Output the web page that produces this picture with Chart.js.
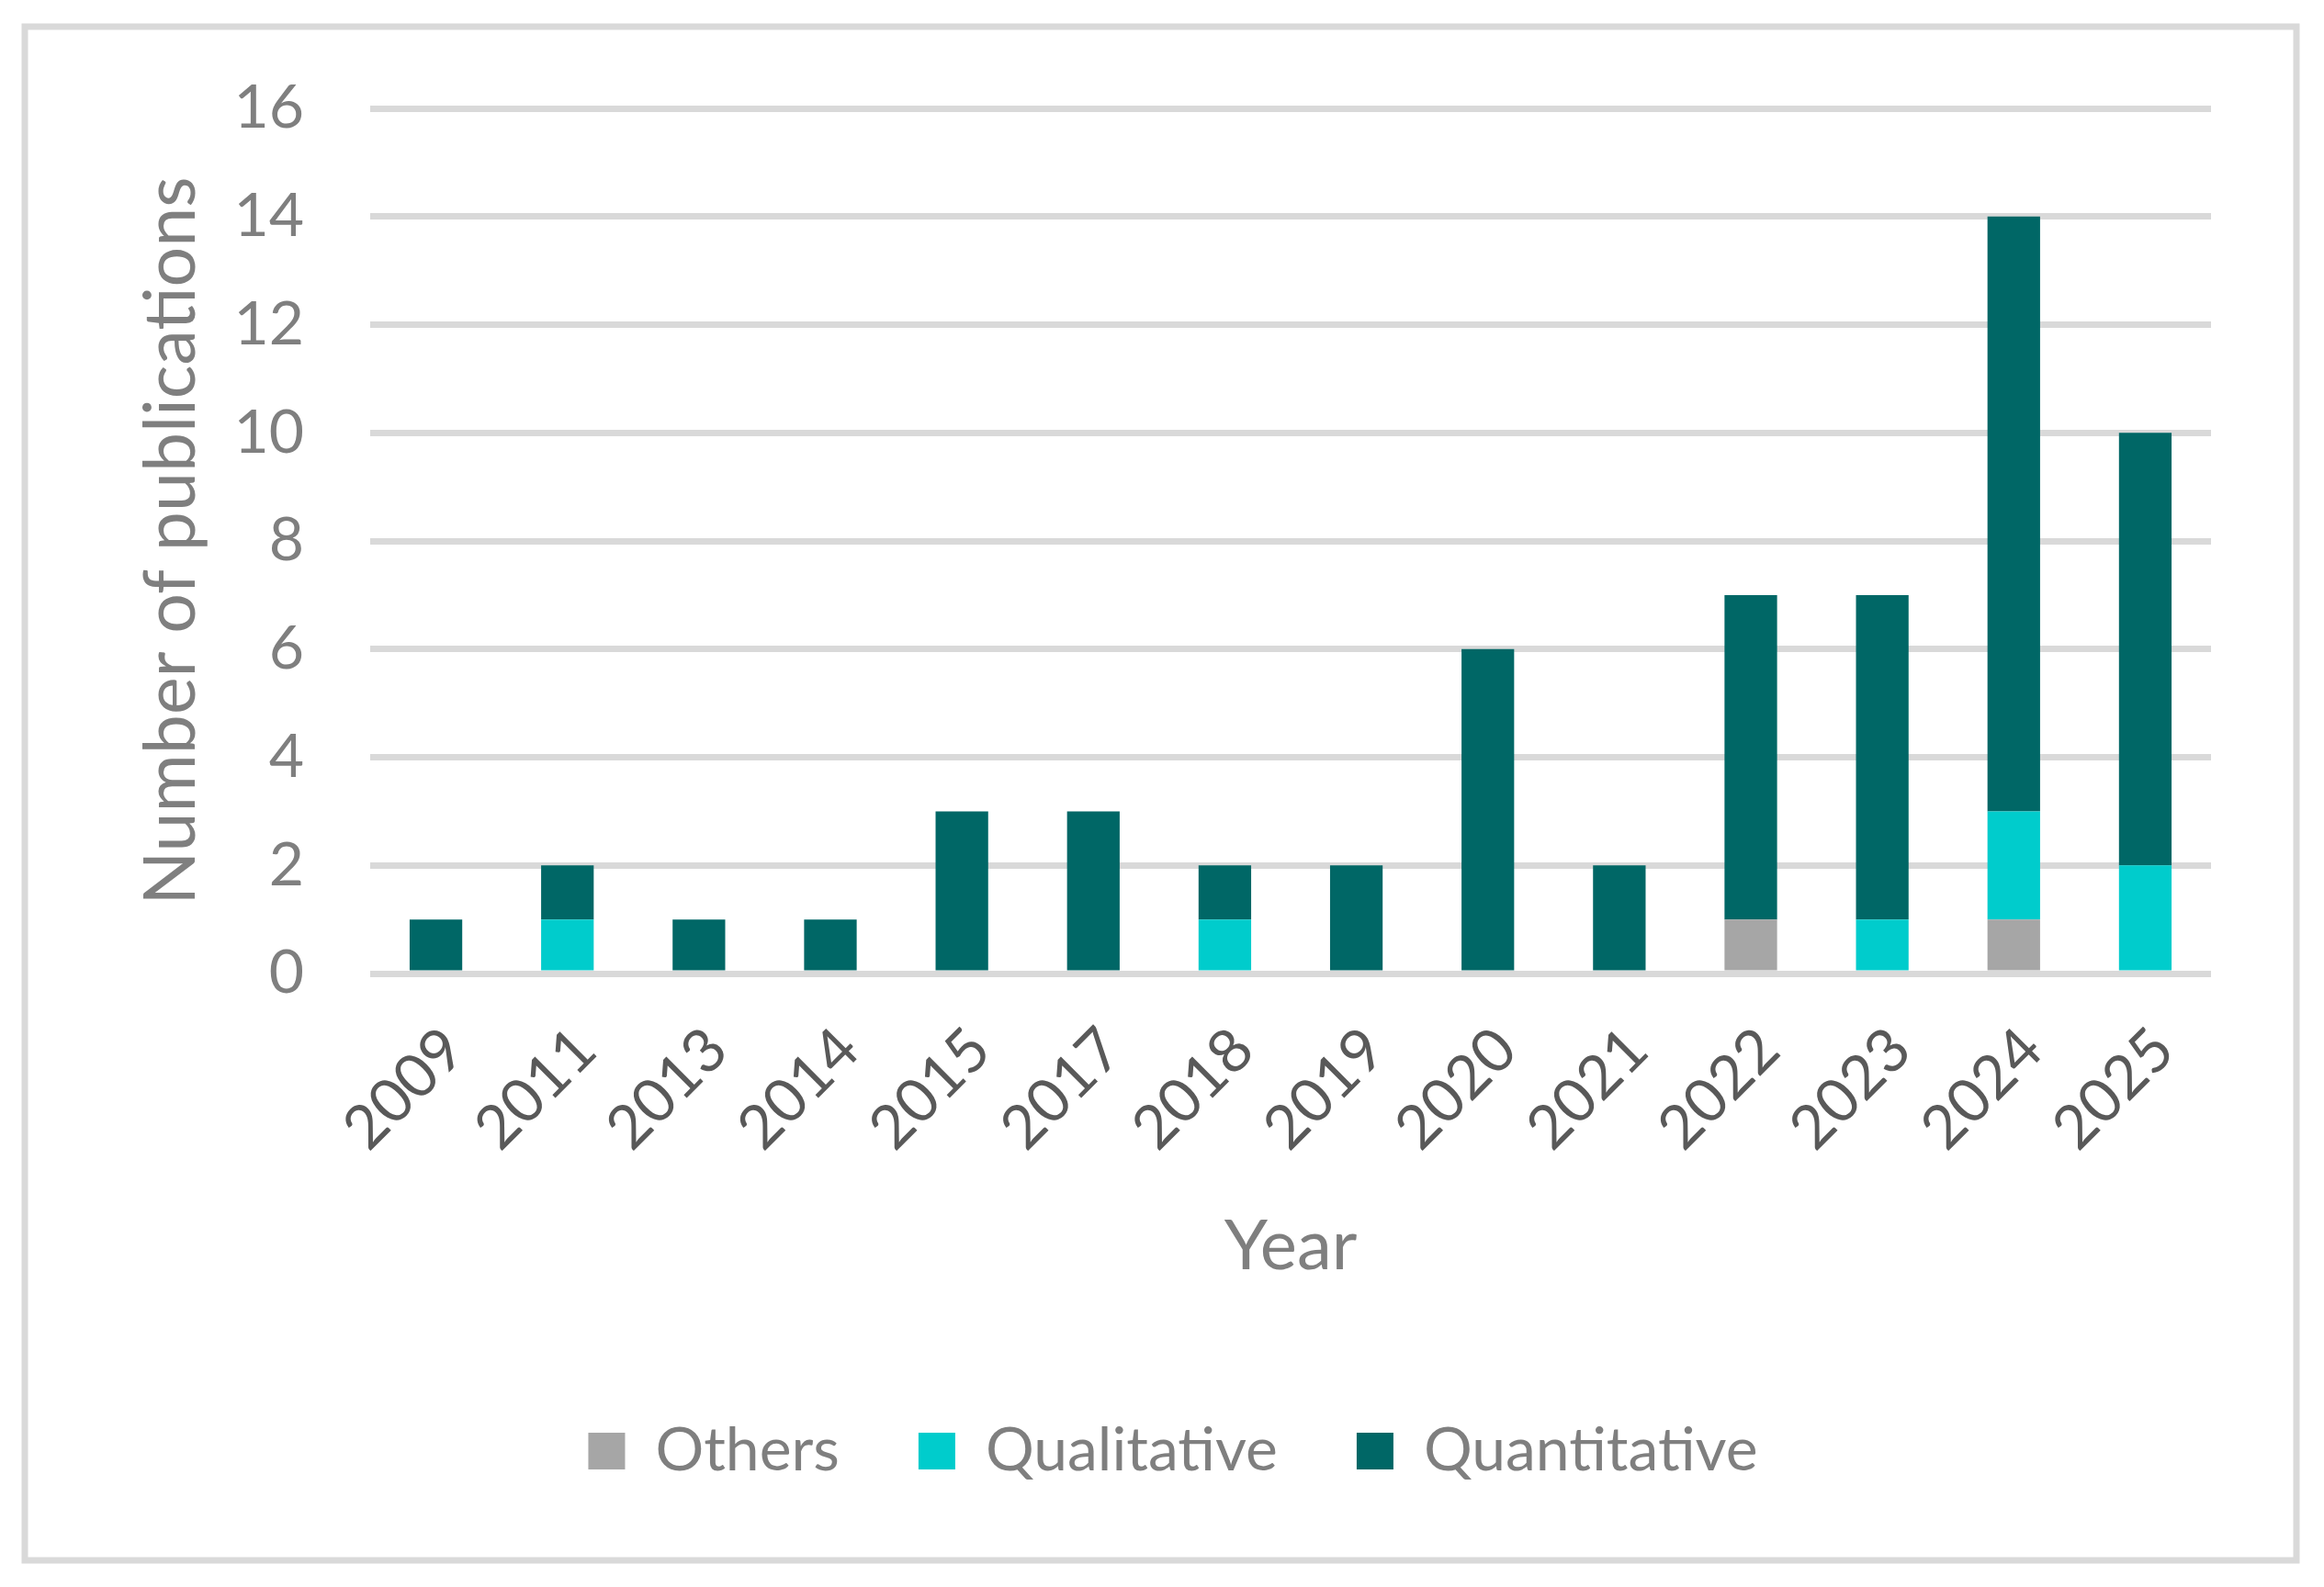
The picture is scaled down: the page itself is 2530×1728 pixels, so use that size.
<!DOCTYPE html>
<html>
<head>
<meta charset="utf-8">
<script src="https://cdn.jsdelivr.net/npm/chart.js@4.4.1/dist/chart.umd.min.js"></script>
<style>
  html, body { margin: 0; padding: 0; background: #fff; overflow: hidden; }
  #wrap { width: 2530px; height: 1728px; position: relative; }
</style>
</head>
<body>
<div id="wrap"><canvas id="pub-chart"></canvas></div>
<script>
// data
const years = ['2009', '2011', '2013', '2014', '2015', '2017', '2018', '2019', '2020', '2021', '2022', '2023', '2024', '2025'];
const others =       [0, 0, 0, 0, 0, 0, 0, 0, 0, 0, 1, 0, 1, 0];
const qualitative =  [0, 1, 0, 0, 0, 0, 1, 0, 0, 0, 0, 1, 2, 2];
const quantitative = [1, 1, 1, 1, 3, 3, 1, 2, 6, 2, 6, 6, 11, 8];
const y_ticks = [0, 2, 4, 6, 8, 10, 12, 14, 16];

const font_family = 'Lato, "Open Sans", sans-serif';
const gray_text = '#7F7F7F';

// light grey frame round the whole chart, like the Excel chart border
const frame = {
    id: 'frame',
    beforeDraw(chart) {
        const ctx = chart.ctx;
        ctx.save();
        ctx.fillStyle = '#ffffff';
        ctx.fillRect(0, 0, chart.width, chart.height);
        ctx.strokeStyle = '#D9D9D9';
        ctx.lineWidth = 7;
        ctx.strokeRect(27, 29, 2473, 1670);
        ctx.restore();
    }
};

const data = {
    labels: years,
    datasets: [
        { label: 'Others', data: others, backgroundColor: '#A6A6A6' },
        { label: 'Qualitative', data: qualitative, backgroundColor: '#00CCCC' },
        { label: 'Quantitative', data: quantitative, backgroundColor: '#006766' }
    ]
};

const config = {
    type: 'bar',
    data: data,
    options: {
        responsive: true,
        maintainAspectRatio: false,
        devicePixelRatio: 1,
        animation: false,
        barPercentage: 0.4,
        categoryPercentage: 1.0,
        layout: { padding: { left: 147, right: 123, top: 118, bottom: 105 } },
        plugins: {
            tooltip: { enabled: false },
            legend: {
                position: 'bottom',
                labels: {
                    color: gray_text,
                    font: { family: font_family, size: 66 },
                    boxWidth: 40,
                    boxHeight: 40,
                    padding: 86
                }
            }
        },
        scales: {
            x: {
                stacked: true,
                grid: { display: false, drawTicks: false },
                border: { display: false },
                ticks: {
                    color: '#595959',
                    font: { family: font_family, size: 66 },
                    minRotation: 45,
                    maxRotation: 45,
                    padding: 44,
                    labelOffset: 20
                },
                title: {
                    display: true,
                    text: 'Year',
                    color: gray_text,
                    font: { family: font_family, size: 76, lineHeight: 1.2 },
                    padding: { top: 0, bottom: 58 }
                },
                afterFit(scale) { scale.height = 401; }
            },
            y: {
                stacked: true,
                min: 0,
                max: 16,
                grid: { color: '#D9D9D9', lineWidth: 7, drawTicks: false },
                border: { display: false },
                afterBuildTicks(scale) { scale.ticks = y_ticks.map(v => ({ value: v })); },
                ticks: {
                    color: gray_text,
                    font: { family: font_family, size: 66 },
                    padding: 72
                },
                title: {
                    display: true,
                    text: 'Number of publications',
                    color: gray_text,
                    font: { family: font_family, size: 77, lineHeight: 1.0 },
                    padding: { top: 2, bottom: 0 }
                },
                afterFit(scale) { scale.width = 403 - 147; }
            }
        }
    },
    plugins: [frame]
};

const pub_chart = new Chart(document.getElementById('pub-chart'), config);
</script>
</body>
</html>
